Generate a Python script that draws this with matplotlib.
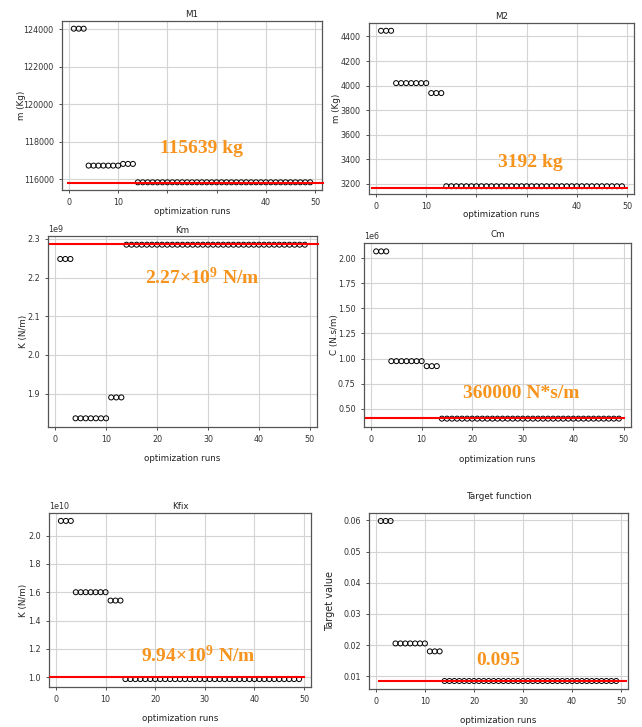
import matplotlib.pyplot as plt
from matplotlib.ticker import FixedLocator, MultipleLocator

plt.rcParams['font.family'] = 'DejaVu Sans'
plt.rcParams['mathtext.fontset'] = 'custom'
plt.rcParams['mathtext.rm'] = 'Liberation Serif:bold'
plt.rcParams['mathtext.default'] = 'rm'

# Optimization runs 1..49, parameter values
runs = list(range(1, 50))
m1 = [124020] * 3 + [116730] * 7 + [116820] * 3 + [115840] * 36
m2 = [4446] * 3 + [4020] * 7 + [3939] * 3 + [3181] * 36
km = [2.248e9] * 3 + [1.836e9] * 7 + [1.890e9] * 3 + [2.285e9] * 36
cm = [2.07e6] * 3 + [0.974e6] * 7 + [0.924e6] * 3 + [0.40e6] * 36
kfix = [2.104e10] * 3 + [1.600e10] * 7 + [1.541e10] * 3 + [0.986e10] * 36
target = [0.0598] * 3 + [0.02054] * 7 + [0.0180] * 3 + [0.0085] * 36

# Red reference lines and annotation texts
ref_lines = [115820, 3165, 2.288e9, 0.404e6, 1.0e10, 0.0086]
labels = ['115639 kg', '3192 kg', r'2.27×10$^{9}$ N/m', '360000 N*s/m',
          r'9.94×10$^{9}$ N/m', '0.095']
titles = ['M1', 'M2', 'Km', 'Cm', 'Kfix', 'Target function']
ylabels = ['m (Kg)', 'm (Kg)', 'K (N/m)', 'C (N.s/m)', 'K (N/m)', 'Target value']
series = [m1, m2, km, cm, kfix, target]

W, H = 642, 727
# pixel boxes (left, right, top, bottom) of each panel in the collage
boxes = [(62, 322, 21, 190), (369, 634, 23, 194), (48, 317, 236, 427),
         (364, 631, 243, 427), (49, 311, 513, 687), (369, 628, 513, 689)]
line_span = [(0.023, 1.005), (0.013, 0.972), (0.009, 1.005),
             (0.006, 0.972), (0.003, 0.974), (0.039, 0.991)]
text_pos = [(26.9, 117650), (30.8, 3371), (28.8, 2.2007e9),
            (29.7, 0.646e6), (28.7, 1.15e10), (25.0, 0.01505)]
title_pad = [3, 3, 2, 4, 3, 10]
xlabel_pad = [0, -1, 7, 8, 7, 7]
ylabel_pad = [-2, 0, -1, -1, 0, 5.5]

fig = plt.figure(figsize=(W / 100, H / 100), dpi=100)

for i in range(6):
    l, r, t, b = boxes[i]
    ax = fig.add_axes([l / W, 1 - b / H, (r - l) / W, (b - t) / H])
    ax.scatter(runs, series[i], s=13, facecolors='none', edgecolors='black',
               linewidths=0.7, zorder=3)
    ax.axhline(ref_lines[i], xmin=line_span[i][0], xmax=line_span[i][1],
               color='red', lw=1.5, zorder=4, clip_on=False)
    ax.text(text_pos[i][0], text_pos[i][1], labels[i], color='#f7941e',
            fontsize=14, fontweight='bold', family='Liberation Serif',
            ha='center', va='center', zorder=5)
    ax.set_title(titles[i], fontsize=6.3, pad=title_pad[i], color='#222222')
    ax.set_xlabel('optimization runs', fontsize=6.3, labelpad=xlabel_pad[i],
                  color='#222222')
    ax.set_ylabel(ylabels[i], fontsize=6.3 if i != 5 else 7,
                  labelpad=ylabel_pad[i], color='#222222')
    ax.grid(True, color='#d4d4d4', lw=0.8)
    ax.set_axisbelow(True)
    ax.tick_params(labelsize=5.8, length=2.5, width=0.6, colors='#333333')
    ax.yaxis.get_offset_text().set_fontsize(5.8)
    for sp in ax.spines.values():
        sp.set_color('#555555')
        sp.set_linewidth(0.9)
    if i < 2:
        ax.xaxis.set_major_locator(FixedLocator([0, 10, 20, 30, 40, 50]))
        ax.set_xticklabels(['0', '10', '', '', '40', '50'])
    if i == 0:
        ax.yaxis.set_major_locator(MultipleLocator(2000))

fig.savefig('out.png', dpi=100)
